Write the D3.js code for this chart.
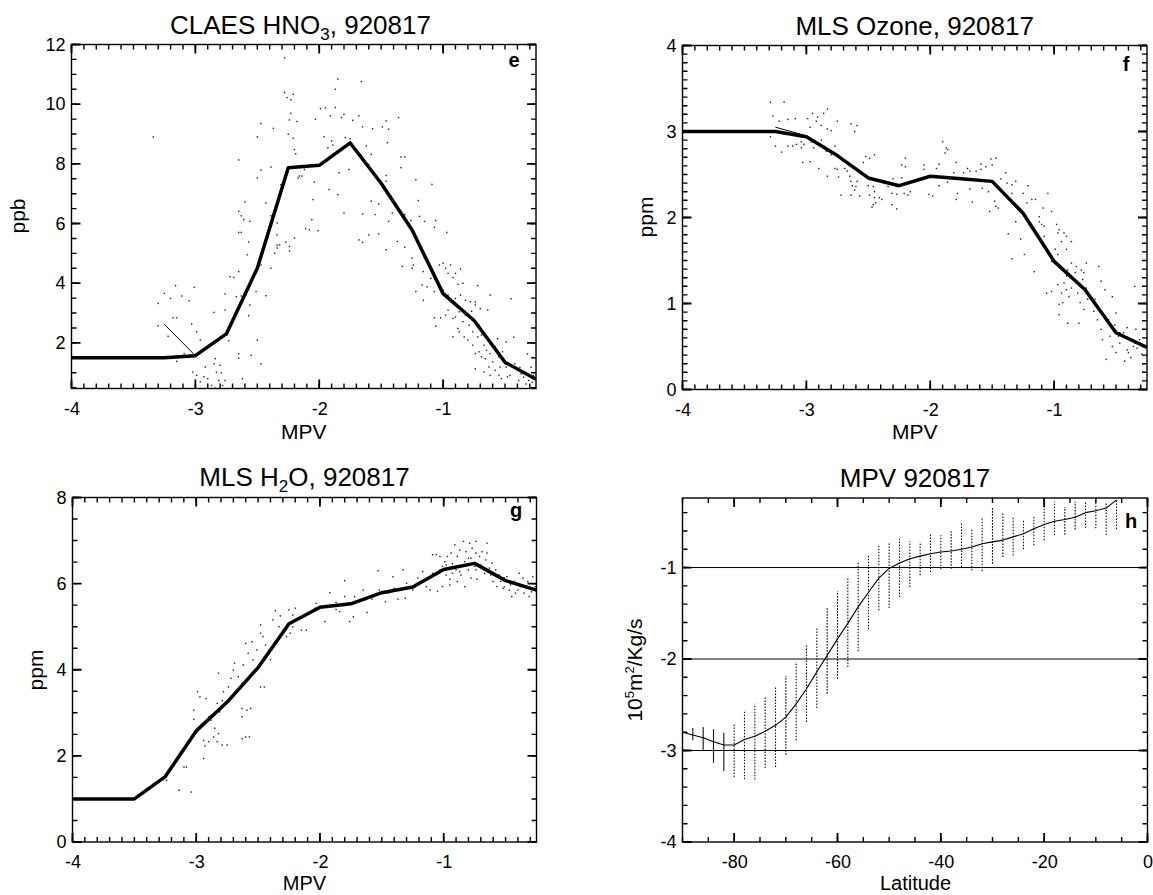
<!DOCTYPE html>
<html><head><meta charset="utf-8">
<script src="https://cdn.jsdelivr.net/npm/d3@7"></script>
<style>body{margin:0;background:#fff}svg{display:block}</style>
</head><body><svg id="c" width="1153" height="895"></svg>
<script>
// ---------------- DATA ----------------
// panel e : CLAES HNO3 vs MPV
const hno3BinMPV = [-4, -3.25, -3, -2.75, -2.5, -2.25, -2, -1.75, -1.5, -1.25, -1, -0.75, -0.5, -0.25];
const hno3Median = [1.5, 1.5, 1.57, 2.3, 4.5, 7.87, 7.95, 8.7, 7.35, 5.78, 3.65, 2.75, 1.35, 0.78];
const hno3ThinMPV = [-3.25, -3.0];
const hno3ThinVal = [2.62, 1.57];
const hno3Points = [[-3.34,8.9],[-3.25,3.66],[-3.30,3.32],[-3.16,3.92],[-3.20,3.49],[-3.11,3.57],[-3.05,3.41],[-3.01,3.86],[-3.18,2.84],[-3.15,2.84],[-3.22,2.22],[-3.30,2.57],[-3.03,2.63],[-2.99,2.37],[-2.96,2.09],[-3.15,1.38],[-3.09,1.64],[-3.02,1.02],[-2.99,0.91],[-2.96,0.69],[-2.92,1.19],[-2.90,0.80],[-2.84,1.47],[-2.85,1.30],[-2.83,1.02],[-2.80,1.25],[-2.79,0.99],[-2.87,0.57],[-2.84,0.48],[-2.78,0.57],[-2.76,0.74],[-2.81,0.74],[-2.93,0.86],[-2.62,0.80],[-2.85,3.02],[-2.76,3.10],[-2.76,3.64],[-2.72,4.22],[-2.69,4.19],[-2.73,2.07],[-2.65,1.64],[-2.65,1.49],[-2.55,1.58],[-2.47,1.30],[-2.50,2.09],[-2.67,3.55],[-2.63,3.57],[-2.56,3.27],[-2.57,2.91],[-2.65,4.39],[-2.59,3.72],[-2.58,4.95],[-2.65,5.70],[-2.63,5.70],[-2.65,6.41],[-2.63,6.26],[-2.60,6.72],[-2.61,6.13],[-2.56,6.07],[-2.57,5.38],[-2.65,8.13],[-2.50,8.90],[-2.47,9.35],[-2.37,9.19],[-2.50,7.53],[-2.47,7.79],[-2.39,7.89],[-2.43,6.69],[-2.39,6.26],[-2.34,6.02],[-2.34,5.62],[-2.32,5.29],[-2.36,5.01],[-2.39,4.50],[-2.47,4.61],[-2.43,3.58],[-2.51,3.72],[-2.34,5.18],[-2.31,7.30],[-2.28,11.55],[-2.28,10.39],[-2.26,10.22],[-2.23,10.15],[-2.21,10.33],[-2.23,9.69],[-2.24,9.47],[-2.18,9.42],[-2.25,8.99],[-2.21,8.86],[-2.20,8.48],[-2.19,8.34],[-2.17,7.53],[-2.14,7.59],[-2.20,5.51],[-2.24,5.23],[-2.27,5.38],[-2.24,5.08],[-2.34,5.28],[-2.11,5.83],[-2.12,7.81],
[-1.85,10.84],[-1.87,10.50],[-1.66,10.76],[-1.99,9.85],[-1.95,9.88],[-1.87,9.89],[-2.03,9.49],[-1.91,9.61],[-1.82,9.55],[-1.80,9.66],[-1.73,9.46],[-1.68,9.61],[-1.65,9.24],[-1.57,9.18],[-1.49,9.24],[-1.46,9.44],[-1.44,9.16],[-1.36,9.55],[-1.96,8.91],[-1.93,8.54],[-1.90,8.77],[-1.89,8.63],[-1.79,8.88],[-1.75,8.84],[-1.62,8.60],[-1.58,8.32],[-1.45,8.71],[-1.34,8.23],[-1.31,8.23],[-1.34,7.87],[-1.60,7.98],[-1.84,7.70],[-1.76,7.81],[-2.16,7.59],[-2.04,7.39],[-2.05,6.80],[-1.92,7.14],[-1.85,6.97],[-1.46,7.42],[-1.46,7.61],[-1.22,7.47],[-1.09,7.31],[-1.80,6.35],[-1.65,6.32],[-1.58,6.75],[-1.52,6.66],[-1.55,6.30],[-1.44,6.07],[-1.41,6.35],[-1.37,6.52],[-1.31,6.30],[-1.26,6.10],[-1.20,6.77],[-1.19,6.24],[-1.15,6.07],[-1.07,5.87],[-1.06,6.10],[-0.97,5.70],[-2.06,6.13],[-2.01,5.76],[-2.08,5.79],[-1.68,5.45],[-1.65,5.37],[-1.60,5.62],[-1.52,5.65],[-1.46,5.12],[-1.37,5.40],[-1.31,5.20],[-1.25,4.84],[-1.25,4.50],[-1.24,4.61],[-1.33,4.56],[-1.15,4.84],[-1.16,4.39],[-1.10,4.16],[-1.13,3.88],[-1.17,3.94],[-1.16,3.43],[-1.22,3.72],[-1.07,3.72],[-1.03,4.61],[-1.00,4.67],[-0.98,4.50],[-0.94,4.61],[-0.96,4.33],[-0.92,4.19],[-0.90,4.33],[-0.86,4.47],[-0.88,3.96],[-0.84,4.00],[-0.72,3.92],[-1.00,3.77],[-0.96,3.60],[-0.94,3.38],[-0.90,3.49],[-0.86,3.60],[-0.82,3.43],[-0.78,3.38],[-0.77,3.06],[-0.74,3.27],[-0.70,3.15],[-0.64,3.10],[-0.62,3.60],[-1.02,2.84],[-0.98,2.93],[-0.96,3.10],[-0.92,2.82],[-0.90,2.87],[-0.87,3.04],[-0.84,2.71],[-0.82,2.93],[-0.79,2.59],[-0.88,2.48],[-0.92,2.20],[-0.87,2.37],[-0.83,2.20],[-0.80,2.09],[-0.76,2.37],[-0.76,1.92],[-0.72,2.20],[-0.71,2.59],[-0.69,2.26],[-0.67,1.92],[-0.65,1.75],[-0.71,1.70],[-0.69,1.53],[-0.66,1.47],[-0.62,1.64],[-0.60,1.36],[-0.58,1.87],[-0.56,2.14],[-0.55,1.53],[-0.52,1.70],[-0.50,1.30],[-0.54,1.19],[-0.58,1.08],[-0.62,0.91],[-0.55,0.91],[-0.53,0.80],[-0.49,1.19],[-0.63,1.19],[-0.67,1.02],[-0.74,1.13],[-0.74,1.64],[-0.48,0.86],[-1.06,2.56],[-1.07,2.84],
[-0.49,2.03],[-0.43,2.19],[-0.42,1.30],[-0.38,1.18],[-0.35,0.85],[-0.32,1.63],[-0.31,0.74],[-0.28,0.68],[-0.33,0.62],[-0.39,0.74],[-0.46,0.91],[-0.29,1.18],[-0.37,0.96],[-0.27,0.91],[-0.45,3.48],[-0.74,3.37]];

// panel f : MLS ozone vs MPV
const o3BinMPV = [-4, -3.25, -3, -2.75, -2.5, -2.25, -2, -1.75, -1.5, -1.25, -1, -0.75, -0.5, -0.25];
const o3Median = [3.0, 3.0, 2.94, 2.72, 2.46, 2.37, 2.48, 2.45, 2.42, 2.05, 1.49, 1.16, 0.66, 0.49];
const o3ThinMPV = [-3.25, -3.0];
const o3ThinVal = [3.05, 2.95];
const o3Points = [[-3.29,3.34],[-3.18,3.34],[-3.27,3.18],[-3.22,3.12],[-3.15,3.14],[-3.09,3.15],[-3.29,2.94],[-3.25,2.83],[-3.20,2.76],[-3.15,2.83],[-3.11,2.83],[-3.08,2.85],[-3.04,2.88],[-3.04,2.81],[-2.99,3.15],[-2.95,3.21],[-2.91,3.17],[-2.86,3.21],[-2.83,3.26],[-2.80,3.01],[-2.75,3.12],[-2.88,3.07],[-2.83,3.03],[-2.92,3.12],[-2.97,3.05],[-2.88,2.90],[-3.02,2.85],[-2.96,2.88],[-2.94,2.81],[-2.85,2.81],[-2.84,2.77],[-2.77,2.83],[-2.80,2.73],[-3.03,2.64],[-2.97,2.65],[-2.90,2.57],[-2.83,2.48],[-2.74,2.47],[-2.72,2.26],[-2.75,2.56],[-2.69,2.57],[-2.67,2.54],[-2.65,2.48],[-2.64,2.42],[-2.63,2.37],[-2.60,2.36],[-2.59,2.42],[-2.61,2.32],[-2.64,2.26],[-2.57,2.25],[-2.54,2.64],[-2.52,2.71],[-2.49,2.69],[-2.50,2.37],[-2.46,2.36],[-2.45,2.30],[-2.49,2.26],[-2.45,2.23],[-2.41,2.23],[-2.46,2.15],[-2.44,2.17],[-2.47,2.12],[-2.64,3.09],[-2.61,3.00],[-2.59,3.07],[-2.45,2.73],[-2.77,2.57],
[-1.90,2.88],[-1.87,2.81],[-1.86,2.79],[-1.88,2.75],[-2.20,2.69],[-2.23,2.61],[-2.20,2.59],[-2.05,2.61],[-1.93,2.62],[-1.79,2.64],[-1.70,2.57],[-1.68,2.54],[-1.59,2.62],[-1.55,2.59],[-1.51,2.68],[-1.47,2.69],[-1.50,2.61],[-1.59,2.56],[-2.05,2.56],[-1.95,2.57],[-1.81,2.52],[-1.73,2.52],[-1.63,2.54],[-2.30,2.45],[-2.23,2.46],[-2.34,2.36],[-2.31,2.28],[-2.27,2.27],[-2.21,2.28],[-2.18,2.26],[-2.16,2.30],[-2.31,2.15],[-2.27,2.10],[-2.39,2.21],[-2.01,2.27],[-1.98,2.25],[-1.93,2.37],[-1.86,2.41],[-1.78,2.28],[-1.79,2.21],[-1.68,2.33],[-1.66,2.18],[-1.58,2.34],[-1.53,2.30],[-1.52,2.07],[-1.48,2.19],[-1.47,2.13],[-1.45,2.11],[-1.43,2.45],[-1.39,2.52],[-1.38,2.40],[-1.34,2.38],[-1.34,2.28],[-1.31,2.42],[-1.21,2.37],[-1.25,2.28],[-1.22,2.17],[-1.18,2.21],[-1.15,2.21],[-1.31,1.95],[-1.37,1.81],[-1.27,1.75],[-1.24,1.57],[-1.34,1.52],[-1.12,2.01],[-1.09,2.11],[-1.02,2.07],[-1.05,2.28],[-1.12,1.95],[-1.10,1.92],[-1.08,1.90],[-1.08,1.78],[-0.98,1.92],[-0.96,1.86],[-0.97,1.82],[-0.92,1.82],[-0.90,1.78],[-0.86,1.72],[-0.90,1.63],[-0.94,1.72],[-0.99,1.63],[-0.97,1.57],[-1.02,1.49],[-1.16,1.37],[-1.06,1.12],[-1.02,1.14],[-0.97,1.22],[-0.96,0.99],[-0.94,1.12],[-0.93,1.01],[-0.92,1.24],[-0.90,1.32],[-0.89,1.39],[-0.90,1.16],[-0.88,1.08],[-0.86,1.18],[-0.85,1.28],[-0.83,1.36],[-0.82,1.24],[-0.81,1.12],[-0.79,1.01],[-0.80,0.77],[-0.89,0.77],[-0.96,0.87],[-0.77,1.28],[-0.76,1.36],[-0.74,1.18],[-0.73,1.05],[-0.76,0.93],[-0.74,1.47],[-0.78,1.39],[-0.82,1.43],[-0.86,1.47],
[-0.62,1.26],[-0.59,1.16],[-0.53,1.08],[-0.50,0.89],[-0.56,0.81],[-0.55,0.62],[-0.50,0.43],[-0.47,0.54],[-0.44,0.66],[-0.41,0.46],[-0.38,0.37],[-0.36,0.50],[-0.35,1.20],[-0.34,0.70],[-0.31,0.58],[-0.29,0.41],[-0.58,0.35],[-0.53,0.50],[-0.48,0.62],[-0.43,0.33],[-0.40,0.43],[-0.35,0.54],[-0.61,0.58],[-0.51,0.75],[-0.47,0.66],[-0.41,0.72],[-0.33,0.48],[-0.64,1.43],[-0.68,0.91],[-0.67,1.05],[-0.65,0.81],[-0.62,0.70]];

// panel g : MLS H2O vs MPV
const h2oBinMPV = [-4, -3.5, -3.25, -3, -2.75, -2.5, -2.25, -2, -1.75, -1.5, -1.25, -1, -0.75, -0.5, -0.25];
const h2oMedian = [1.0, 1.0, 1.52, 2.58, 3.25, 4.05, 5.07, 5.45, 5.53, 5.79, 5.92, 6.33, 6.47, 6.07, 5.85];
const h2oPoints = [[-3.24,1.43],[-3.14,1.20],[-3.04,1.16],[-3.10,1.74],[-3.08,1.74],[-3.02,2.85],[-3.02,3.06],[-2.99,3.49],[-2.94,2.36],[-2.94,1.94],[-2.93,2.23],[-2.90,2.33],[-2.86,2.44],[-2.85,2.64],[-2.83,2.33],[-2.79,2.25],[-2.75,2.25],[-2.82,2.52],[-2.90,2.91],[-2.88,2.83],[-2.81,3.02],[-2.79,3.28],[-2.83,3.22],[-2.82,3.92],[-2.78,3.49],[-2.92,3.33],[-2.97,3.37],[-2.74,3.60],[-2.72,3.80],[-2.70,3.99],[-2.69,4.15],[-2.66,3.84],[-2.63,3.68],[-2.66,3.53],[-2.62,4.11],[-2.63,3.10],[-2.59,3.06],[-2.56,3.10],[-2.63,2.91],[-2.63,2.40],[-2.60,2.44],[-2.57,2.44],[-2.60,4.61],[-2.55,4.65],[-2.58,4.38],[-2.54,4.23],[-2.51,4.46],[-2.48,4.85],[-2.48,5.04],[-2.46,4.77],[-2.44,4.57],[-2.48,3.60],[-2.45,3.60],[-2.40,4.23],[-2.41,4.46],[-2.38,5.16],[-2.36,5.37],[-2.32,5.25],[-2.33,5.00],[-2.30,4.92],[-2.27,4.77],[-2.24,4.85],[-2.25,5.39],[-2.22,5.27],[-2.20,5.43],[-2.18,5.20],[-2.15,4.92],[-2.11,4.92],[-2.22,5.00],[-2.03,5.54],[-2.04,5.43],[-1.96,5.12],[-1.98,5.47],[-1.92,5.79],[-1.87,5.56],[-1.84,5.35],[-1.80,6.07],[-1.80,5.70],[-1.87,5.40],[-1.73,5.23],[-1.76,5.12],[-1.72,5.70],[-1.65,5.85],[-1.64,5.62],[-1.62,5.33],[-1.58,5.64],[-1.53,6.30],[-1.52,5.85],[-1.47,5.58],[-1.45,5.78],[-1.41,6.16],[-1.40,5.89],[-1.37,5.64],[-1.33,6.32],[-1.30,6.01],[-1.31,5.66],[-1.25,5.85],[-1.21,6.13],[-1.17,6.28],[-1.14,5.93],[-1.11,5.85],[-1.09,6.24],[-1.06,6.67],[-1.05,5.82],
[-1.03,6.32],[-1.01,6.40],[-0.99,6.51],[-0.98,6.20],[-0.97,6.63],[-0.95,6.10],[-0.94,6.71],[-0.93,6.46],[-0.91,6.90],[-0.90,6.32],[-0.89,6.63],[-0.87,6.78],[-0.86,6.20],[-0.84,6.98],[-0.83,6.51],[-0.82,6.74],[-0.80,6.32],[-0.79,6.94],[-0.78,6.59],[-0.77,6.82],[-0.75,6.40],[-0.74,6.98],[-0.74,6.71],[-0.73,6.10],[-0.71,6.63],[-0.70,6.43],[-0.69,6.74],[-0.67,6.24],[-0.66,6.55],[-0.65,6.71],[-0.63,6.36],[-0.62,6.20],[-0.61,6.48],[-0.60,6.05],[-0.58,6.32],[-0.57,5.93],[-0.55,6.20],[-0.54,6.05],[-0.52,5.89],[-0.51,6.13],[-1.01,5.93],[-0.95,5.97],[-0.89,6.05],[-0.83,5.93],[-0.78,6.13],[-0.74,6.32],[-0.87,6.28],[-0.80,6.59],[-0.93,6.24],[-0.98,6.43],[-1.03,6.63],[-1.09,6.67],[-0.65,6.94],
[-0.49,6.16],[-0.46,5.97],[-0.43,6.05],[-0.40,5.85],[-0.38,5.93],[-0.35,5.78],[-0.32,6.05],[-0.29,5.81],[-0.26,5.93],[-0.47,5.85],[-0.42,5.78],[-0.36,6.13],[-0.31,5.70],[-0.28,6.16],[-0.39,6.24],[-0.33,5.89],[-0.51,5.93],[-0.45,5.70]];

// panel h : MPV vs latitude
const mpvLineLat = [-90,-88,-86,-84,-82,-80,-78,-76,-74,-72,-70,-68,-66,-64,-62,-60,-58,-56,-54,-52,-50,-48,-46,-44,-42,-40,-38,-36,-34,-32,-30,-28,-26,-24,-22,-20,-18,-16,-14,-12,-10,-8,-6];
const mpvLineVal = [-2.80,-2.83,-2.86,-2.905,-2.94,-2.94,-2.88,-2.845,-2.79,-2.725,-2.635,-2.49,-2.325,-2.14,-1.96,-1.78,-1.61,-1.43,-1.27,-1.115,-1.01,-0.95,-0.905,-0.875,-0.85,-0.83,-0.82,-0.80,-0.775,-0.74,-0.72,-0.70,-0.665,-0.63,-0.575,-0.53,-0.495,-0.475,-0.45,-0.40,-0.38,-0.35,-0.26];
const mpvBarLat = [-88,-86,-84,-82,-80,-78,-76,-74,-72,-70,-68,-66,-64,-62,-60,-58,-56,-54,-52,-50,-48,-46,-44,-42,-40,-38,-36,-34,-32,-30,-28,-26,-24,-22,-20,-18,-16,-14,-12,-10,-8,-6];
const mpvBarMax = [-2.754,-2.743,-2.768,-2.805,-2.707,-2.561,-2.489,-2.404,-2.306,-2.186,-2.033,-1.850,-1.650,-1.443,-1.260,-1.104,-0.940,-0.867,-0.757,-0.721,-0.685,-0.714,-0.721,-0.631,-0.648,-0.604,-0.510,-0.576,-0.448,-0.339,-0.393,-0.448,-0.473,-0.430,-0.255,-0.277,-0.339,-0.277,-0.284,-0.262,-0.28,-0.26];
const mpvBarMin = [-2.889,-3.009,-3.133,-3.224,-3.290,-3.315,-3.315,-3.191,-3.180,-3.046,-2.889,-2.689,-2.536,-2.379,-2.215,-2.087,-1.916,-1.675,-1.468,-1.443,-1.322,-1.213,-1.085,-1.049,-1.020,-1.013,-0.995,-1.031,-1.042,-0.958,-0.885,-0.867,-0.801,-0.757,-0.703,-0.648,-0.641,-0.583,-0.568,-0.572,-0.645,-0.58];
const mpvRefLevels = [-1, -2, -3];

// ticks
const mpvTicks = [-4, -3, -2, -1];
const hno3Ticks = [2, 4, 6, 8, 10, 12];
const o3Ticks = [0, 1, 2, 3, 4];
const h2oTicks = [0, 2, 4, 6, 8];
const latTicks = [-80, -60, -40, -20, 0];
const mpvValTicks = [-4, -3, -2, -1];

// ---------------- DRAW ----------------
const FONT = '"Liberation Sans", Arial, Helvetica, sans-serif';
const svg = d3.select('#c');
svg.append('rect').attr('width',1153).attr('height',895).attr('fill','#fff');
const fmt = d => String(d);
const stepRange = (a, b, s) => d3.range(Math.round(a / s), Math.round(b / s) + 1).map(i => +(i * s).toFixed(4)).filter(v => v >= a - 1e-9 && v <= b + 1e-9);
const panels = [];

function panel(c, id) {
  const w = c.x1 - c.x0, h = c.y1 - c.y0;
  const g = svg.append('g').attr('transform', `translate(${c.x0},${c.y0})`);
  const x = d3.scaleLinear().domain(c.xDom).range([0, w]);
  const y = d3.scaleLinear().domain(c.yDom).range([h, 0]);
  g.append('clipPath').attr('id', 'clip' + id).append('rect').attr('width', w).attr('height', h);
  const plot = g.append('g').attr('clip-path', `url(#clip${id})`);
  const put = (axis, tr) => {
    const a = g.append('g').attr('transform', tr).call(axis);
    a.selectAll('.domain').remove();
    a.selectAll('.tick line').remove();
    a.selectAll('.tick text').attr('font-family', FONT).attr('font-size', 18).attr('fill', '#000');
    return a;
  };
  put(d3.axisBottom(x).tickValues(c.xTicks).tickSize(0).tickPadding(c.xPad).tickFormat(fmt), `translate(0,${h})`);
  put(d3.axisLeft(y).tickValues(c.yTicks).tickSize(0).tickPadding(6).tickFormat(fmt), 'translate(0,0)');
  g.append('text').attr('x', c.letterX - c.x0).attr('y', c.letterY - c.y0).attr('text-anchor', 'middle')
    .attr('font-family', FONT).attr('font-weight', 'bold').attr('font-size', 20).text(id);
  const P = { c, g, plot, x, y, w, h,
    xMin: stepRange(c.xDom[0], c.xDom[1], c.xMinorStep),
    yMin: stepRange(c.yDom[0], c.yDom[1], c.yMinorStep) };
  panels.push(P);
  return P;
}

// inward tick marks on all four sides as one path per set, plus the frame, drawn last
function frameAndTicks(P) {
  const t = svg.append('g').attr('transform', `translate(${P.c.x0},${P.c.y0})`);
  const tickPath = (xv, yv, len) => {
    let d = '';
    xv.forEach(v => { const px = P.x(v).toFixed(2); d += `M${px},${P.h}V${P.h - len}M${px},0V${len}`; });
    yv.forEach(v => { const py = P.y(v).toFixed(2); d += `M0,${py}H${len}M${P.w},${py}H${P.w - len}`; });
    return d;
  };
  t.append('path').attr('d', tickPath(P.xMin, P.yMin, 5)).attr('fill', 'none').attr('stroke', '#000').attr('stroke-width', 1.4);
  t.append('path').attr('d', tickPath(P.c.xTicks, P.c.yTicks, 9)).attr('fill', 'none').attr('stroke', '#000').attr('stroke-width', 1.8);
  t.append('rect').attr('width', P.w).attr('height', P.h).attr('fill', 'none').attr('stroke', '#000').attr('stroke-width', 1.4);
}

function title(cx, cy, parts) {
  const t = svg.append('text').attr('x', cx).attr('y', cy).attr('text-anchor', 'middle')
    .attr('font-family', FONT).attr('font-size', 26).attr('fill', '#000');
  parts.forEach(p => {
    const s = t.append('tspan').text(p.t);
    if (p.sub) s.attr('font-size', 17).attr('dy', 6);
    if (p.back) s.attr('dy', -6);
  });
}
function label(x, y, text, rot, size) {
  const t = svg.append('text').attr('font-family', FONT).attr('font-size', size || 21).attr('text-anchor', 'middle')
    .attr('transform', `translate(${x},${y})` + (rot ? ' rotate(-90)' : '')).attr('dy', rot ? '0.35em' : 0);
  t.text(text);
  return t;
}

const lineGen = (x, y) => d3.line().x(d => x(d[0])).y(d => y(d[1]));
function scatter(P, pts) {
  P.plot.append('g').selectAll('rect').data(pts).join('rect')
    .attr('x', d => P.x(d[0]) - 0.7).attr('y', d => P.y(d[1]) - 0.7)
    .attr('width', 1.4).attr('height', 1.4).attr('fill', '#222');
}
function thick(P, xs, ys, wdt) {
  P.plot.append('path').datum(xs.map((v, i) => [v, ys[i]])).attr('d', lineGen(P.x, P.y))
    .attr('fill', 'none').attr('stroke', '#000').attr('stroke-width', wdt).attr('stroke-linejoin', 'round');
}

// ---- panel e
const E = panel({x0:71.5,x1:536,y0:44.5,y1:388.5,xDom:[-4,-0.25],yDom:[0.47,12],xTicks:mpvTicks,yTicks:hno3Ticks,
  xMinorStep:0.1,yMinorStep:0.5,xPad:14,letterX:514,letterY:67}, 'e');
scatter(E, hno3Points);
thick(E, hno3ThinMPV, hno3ThinVal, 1);
thick(E, hno3BinMPV, hno3Median, 3.5);
title(300.5, 34, [{t:'CLAES HNO'},{t:'3',sub:true},{t:', 920817',back:true}]);
label(303.7, 439, 'MPV');
label(18, 216, 'ppb', true);

// ---- panel f
const F = panel({x0:682.5,x1:1147,y0:45.5,y1:389.5,xDom:[-4,-0.25],yDom:[0,4],xTicks:mpvTicks,yTicks:o3Ticks,
  xMinorStep:0.1,yMinorStep:0.1,xPad:14,letterX:1126,letterY:71}, 'f');
scatter(F, o3Points);
thick(F, o3ThinMPV, o3ThinVal, 1);
thick(F, o3BinMPV, o3Median, 3.5);
title(914.7, 35, [{t:'MLS Ozone, 920817'}]);
label(914.7, 439, 'MPV');
label(646, 217, 'ppm', true);

// ---- panel g
const G = panel({x0:72.5,x1:536.5,y0:497.5,y1:842,xDom:[-4,-0.25],yDom:[0,8],xTicks:mpvTicks,yTicks:h2oTicks,
  xMinorStep:0.1,yMinorStep:0.5,xPad:13,letterX:516,letterY:517}, 'g');
scatter(G, h2oPoints);
thick(G, h2oBinMPV, h2oMedian, 3.5);
title(304.5, 486, [{t:'MLS H'},{t:'2',sub:true},{t:'O, 920817',back:true}]);
label(304.5, 890, 'MPV', false, 20);
label(36, 670, 'ppm', true);

// ---- panel h
const Hp = panel({x0:682.5,x1:1147.5,y0:498,y1:842,xDom:[-90,0],yDom:[-4,-0.24],xTicks:latTicks,yTicks:mpvValTicks,
  xMinorStep:5,yMinorStep:0.2,xPad:13,letterX:1131,letterY:528}, 'h');
Hp.plot.append('g').selectAll('line').data(mpvRefLevels).join('line')
  .attr('x1', 0).attr('x2', Hp.w).attr('y1', d => Hp.y(d)).attr('y2', d => Hp.y(d))
  .attr('stroke', '#000').attr('stroke-width', 1);
Hp.plot.append('g').selectAll('line').data(mpvBarLat.map((v, i) => [v, mpvBarMin[i], mpvBarMax[i]])).join('line')
  .attr('x1', d => Hp.x(d[0])).attr('x2', d => Hp.x(d[0]))
  .attr('y1', d => Hp.y(d[1])).attr('y2', d => Hp.y(d[2]))
  .attr('stroke', '#111').attr('stroke-width', 1.1).attr('stroke-dasharray', (d, i) => i < 4 ? null : '1.6,1.4');
thick(Hp, mpvLineLat, mpvLineVal, 1.1);
title(915, 487, [{t:'MPV 920817'}]);
label(915.5, 890, 'Latitude', false, 20);
const yl = svg.append('text').attr('font-family', FONT).attr('font-size', 21).attr('text-anchor', 'middle')
  .attr('transform', 'translate(635,670) rotate(-90)').attr('dy', '0.35em');
yl.append('tspan').text('10');
yl.append('tspan').attr('font-size', 13).attr('dy', -8).text('5');
yl.append('tspan').attr('dy', 8).text('m');
yl.append('tspan').attr('font-size', 13).attr('dy', -8).text('2');
yl.append('tspan').attr('dy', 8).text('/Kg/s');

panels.forEach(frameAndTicks);
</script></body></html>
